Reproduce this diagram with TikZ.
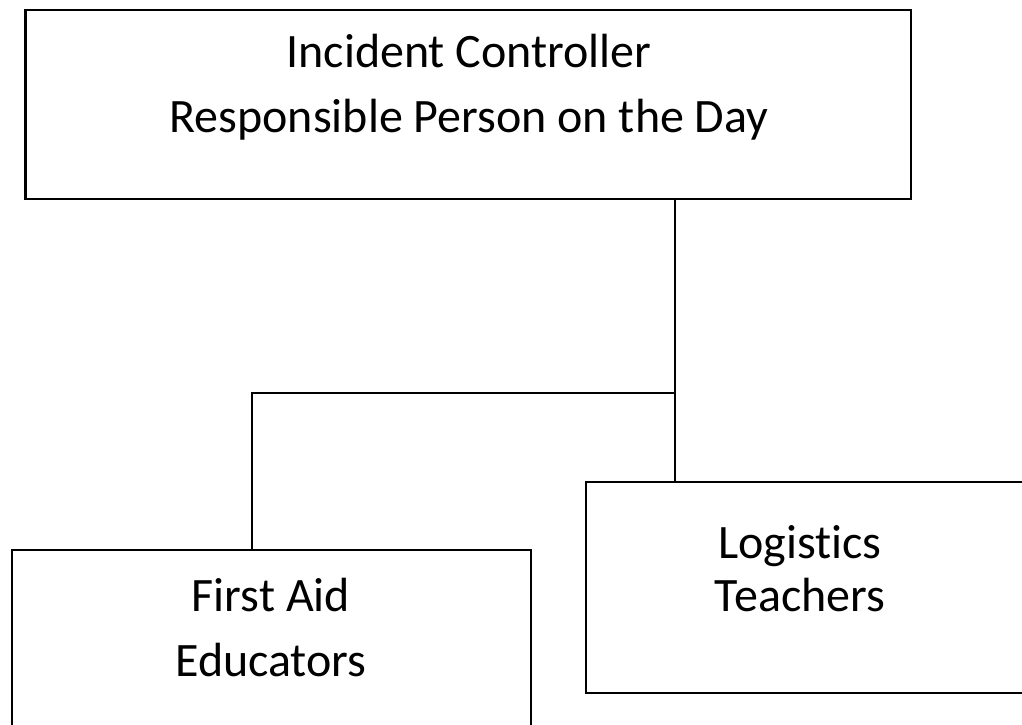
\documentclass[tikz,border=0pt]{standalone}
\usepackage{fontspec}
\setmainfont{Carlito}[Ligatures=NoCommon]
\begin{document}
\begin{tikzpicture}[x=0.5pt,y=-0.5pt,
	box/.style={draw=black,line width=1.1pt,rectangle,inner sep=0pt,outer sep=0pt},
	lbl/.style={align=center,inner sep=0pt,font=\fontsize{24}{32.5}\selectfont},
	link/.style={draw=black,line width=1.1pt}]
	\useasboundingbox (0,0) rectangle (1022,724);
	% boxes
	\node [box,minimum width=442.75pt,minimum height=94.5pt] (ic) at (468.25,104.5) {};
	\node [box,minimum width=259.5pt,minimum height=105pt] (fa) at (271.5,655) {};
	\node [box,minimum width=222pt,minimum height=105.5pt] (lg) at (808,587.5) {};
	% texts
	\node [lbl] (ictext) at (469,87) {Incident Controller\\Responsible Person on the Day};
	\node [lbl] (fatext) at (271,627) {First Aid\\Educators};
	\node [lbl,font=\fontsize{24}{26.5}\selectfont] (lgtext) at (800,569) {Logistics\\Teachers};
	% joints
	\coordinate (jn) at (675,393);
	\coordinate (jl) at (252,393);
	\draw [link] (ic.south -| jn) -- (jn) -- (lg.north -| jn);
	\draw [link] (jn) -- (jl) -- (fa.north -| jl);
\end{tikzpicture}
\end{document}
